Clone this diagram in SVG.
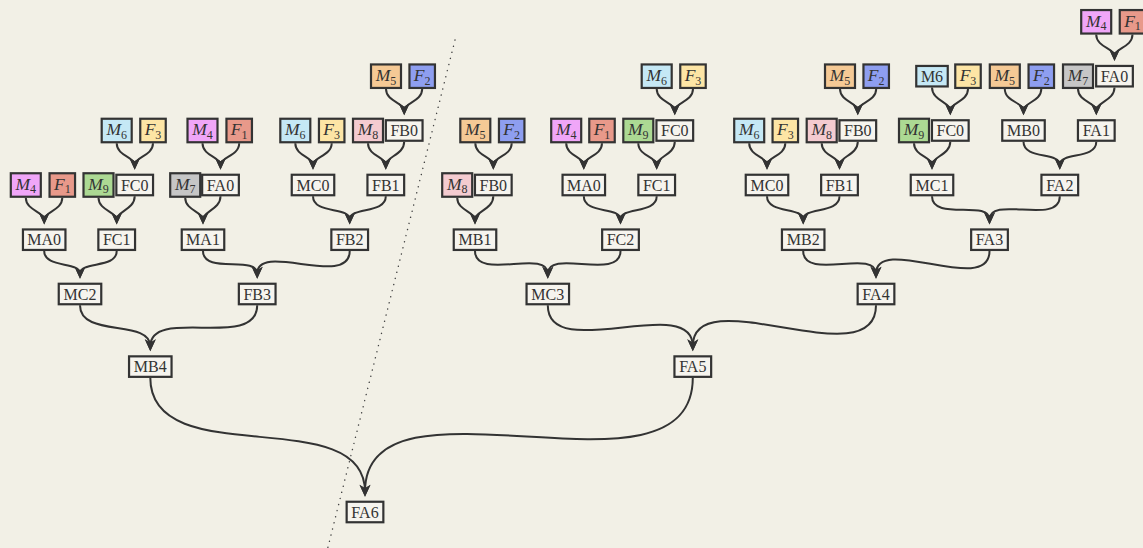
<svg xmlns="http://www.w3.org/2000/svg" width="1143" height="548" viewBox="0 0 1143 548">
<defs>
<marker id="ah" markerUnits="userSpaceOnUse" markerWidth="20" markerHeight="20" viewBox="-10 -10 20 20" refX="0" refY="0" orient="auto">
<path d="M5,0 L-7,-5.5 L-3.5,0 L-7,5.5 Z" fill="#333"/>
</marker>
</defs>
<style>
.bg{fill:#f2f0e6}
rect.b{stroke:#333;stroke-width:2.2}
.p{fill:#f6f4ee}
.cM4{fill:#f0a6f8}.cF1{fill:#e8998a}.cM9{fill:#acd993}.cM6{fill:#c5e8f5}.cF3{fill:#fde5a5}
.cM7{fill:#c6c6c6}.cM5{fill:#f5c995}.cF2{fill:#8e9ef0}.cM8{fill:#f4cbd0}
text{font-family:"Liberation Serif","Times New Roman",serif;font-size:16px;fill:#333;text-anchor:middle}
.i{font-style:italic;font-size:17.5px}
.s{font-size:12px}
#edges path{fill:none;stroke:#333;stroke-width:2;marker-end:url(#ah)}
</style>
<rect class="bg" x="0" y="0" width="1143" height="548"/>
<line x1="455" y1="40" x2="327" y2="551" stroke="#444" stroke-width="1.4" stroke-dasharray="0.1 6.2" stroke-linecap="round"/>
<g id="edges">
<path d="M386,88.95 C386,101.45 404.2,102.75 404.2,110.25"/>
<path d="M422.2,88.95 C422.2,101.45 404.2,102.75 404.2,110.25"/>
<path d="M116.7,143.25 C116.7,155.75 134.7,157.25 134.7,164.75"/>
<path d="M153,143.25 C153,155.75 134.7,157.25 134.7,164.75"/>
<path d="M202.5,143.25 C202.5,155.75 220.5,157.25 220.5,164.75"/>
<path d="M239.2,143.25 C239.2,155.85 220.5,157.15 220.5,164.75"/>
<path d="M295.3,143.25 C295.3,155.75 313,157.25 313,164.75"/>
<path d="M331.7,143.25 C331.7,155.75 313,157.25 313,164.75"/>
<path d="M368,143.25 C368,155.75 385.8,157.25 385.8,164.75"/>
<path d="M404.2,141.75 C404.2,154.85 385.8,156.65 385.8,164.75"/>
<path d="M25.8,197.75 C25.8,210.45 44.2,211.75 44.2,219.45"/>
<path d="M62.3,197.75 C62.3,210.35 44.2,211.85 44.2,219.45"/>
<path d="M98.5,197.75 C98.5,210.35 116.7,211.85 116.7,219.45"/>
<path d="M134.7,196.25 C134.7,209.35 116.7,211.35 116.7,219.45"/>
<path d="M185.2,197.75 C185.2,210.35 203,211.85 203,219.45"/>
<path d="M220.5,196.25 C220.5,209.25 203,211.45 203,219.45"/>
<path d="M313,196.25 C313,214.35 349.7,206.35 349.7,219.45"/>
<path d="M385.8,196.25 C385.8,214.15 349.7,206.55 349.7,219.45"/>
<path d="M44.2,250.95 C44.2,268.65 80,261.05 80,273.75"/>
<path d="M116.7,250.95 C116.7,268.95 80,260.75 80,273.75"/>
<path d="M203,250.95 C203,274.75 257.2,254.95 257.2,273.75"/>
<path d="M349.7,250.95 C349.7,288.75 257.2,240.95 257.2,273.75"/>
<path d="M80,305.25 C80,338.15 150.3,318.45 150.3,346.35"/>
<path d="M257.2,305.25 C257.2,350.85 150.3,305.75 150.3,346.35"/>
<path d="M150.3,377.85 C150.3,473.95 365,400.65 365,491.75"/>
<path d="M692.8,377.85 C692.8,514.35 365,360.25 365,491.75"/>
<path d="M1096.2,34.55 C1096.2,47.15 1114.5,48.35 1114.5,55.95"/>
<path d="M1132.5,34.55 C1132.5,47.05 1114.5,48.45 1114.5,55.95"/>
<path d="M656.7,88.95 C656.7,101.45 674.8,102.75 674.8,110.25"/>
<path d="M693,88.95 C693,101.45 674.8,102.75 674.8,110.25"/>
<path d="M840,88.95 C840,101.35 857.8,102.85 857.8,110.25"/>
<path d="M876.2,88.95 C876.2,101.45 857.8,102.75 857.8,110.25"/>
<path d="M932,87.45 C932,100.45 950.3,102.25 950.3,110.25"/>
<path d="M968,88.95 C968,101.35 950.3,102.85 950.3,110.25"/>
<path d="M1004.8,88.95 C1004.8,101.55 1023.5,102.65 1023.5,110.25"/>
<path d="M1041.3,88.95 C1041.3,101.55 1023.5,102.65 1023.5,110.25"/>
<path d="M1078,88.95 C1078,101.45 1096.3,102.75 1096.3,110.25"/>
<path d="M1114.5,87.45 C1114.5,100.45 1096.3,102.25 1096.3,110.25"/>
<path d="M475.3,143.25 C475.3,155.75 493.3,157.25 493.3,164.75"/>
<path d="M511.7,143.25 C511.7,155.75 493.3,157.25 493.3,164.75"/>
<path d="M566.2,143.25 C566.2,155.75 583.8,157.25 583.8,164.75"/>
<path d="M602,143.25 C602,155.75 583.8,157.25 583.8,164.75"/>
<path d="M638.3,143.25 C638.3,155.85 656.7,157.15 656.7,164.75"/>
<path d="M674.8,141.75 C674.8,154.75 656.7,156.75 656.7,164.75"/>
<path d="M749.2,143.25 C749.2,155.75 767,157.25 767,164.75"/>
<path d="M785.3,143.25 C785.3,155.75 767,157.25 767,164.75"/>
<path d="M821.7,143.25 C821.7,155.75 839.5,157.25 839.5,164.75"/>
<path d="M857.8,141.75 C857.8,154.85 839.5,156.65 839.5,164.75"/>
<path d="M914,143.25 C914,155.75 932,157.25 932,164.75"/>
<path d="M950.3,141.75 C950.3,154.85 932,156.65 932,164.75"/>
<path d="M1023.5,141.75 C1023.5,159.65 1059.8,151.85 1059.8,164.75"/>
<path d="M1096.3,141.75 C1096.3,159.75 1059.8,151.75 1059.8,164.75"/>
<path d="M457.2,197.75 C457.2,210.35 475,211.85 475,219.45"/>
<path d="M493.3,196.25 C493.3,209.45 475,211.25 475,219.45"/>
<path d="M583.8,196.25 C583.8,214.35 620.5,206.35 620.5,219.45"/>
<path d="M656.7,196.25 C656.7,214.15 620.5,206.55 620.5,219.45"/>
<path d="M767,196.25 C767,214.15 803.2,206.55 803.2,219.45"/>
<path d="M839.5,196.25 C839.5,214.15 803.2,206.55 803.2,219.45"/>
<path d="M932,196.25 C932,221.35 989.5,199.35 989.5,219.45"/>
<path d="M1059.8,196.25 C1059.8,225.95 989.5,194.75 989.5,219.45"/>
<path d="M475,250.95 C475,281.45 547.8,248.25 547.8,273.75"/>
<path d="M620.5,250.95 C620.5,281.45 547.8,248.25 547.8,273.75"/>
<path d="M803.2,250.95 C803.2,281.45 876,248.25 876,273.75"/>
<path d="M989.5,250.95 C989.5,296.75 876,232.95 876,273.75"/>
<path d="M547.8,305.25 C547.8,364.85 692.8,291.75 692.8,346.35"/>
<path d="M876,305.25 C876,379.25 692.8,277.35 692.8,346.35"/>
</g>

<!-- Left tree -->
<g id="L_M5a"><rect class="b cM5" x="371" y="64.45" width="30" height="23.5"/><text x="386" y="81"><tspan class="i">M</tspan><tspan class="s" dy="3.5">5</tspan></text></g>
<g id="L_F2a"><rect class="b cF2" x="409.45" y="64.45" width="25.5" height="23.5"/><text x="422.2" y="81"><tspan class="i">F</tspan><tspan class="s" dy="3.5">2</tspan></text></g>

<g id="L_M6b"><rect class="b cM6" x="101.7" y="118.75" width="30" height="23.5"/><text x="116.7" y="135.3"><tspan class="i">M</tspan><tspan class="s" dy="3.5">6</tspan></text></g>
<g id="L_F3b"><rect class="b cF3" x="140.25" y="118.75" width="25.5" height="23.5"/><text x="153" y="135.3"><tspan class="i">F</tspan><tspan class="s" dy="3.5">3</tspan></text></g>
<g id="L_M4b"><rect class="b cM4" x="187.5" y="118.75" width="30" height="23.5"/><text x="202.5" y="135.3"><tspan class="i">M</tspan><tspan class="s" dy="3.5">4</tspan></text></g>
<g id="L_F1b"><rect class="b cF1" x="226.45" y="118.75" width="25.5" height="23.5"/><text x="239.2" y="135.3"><tspan class="i">F</tspan><tspan class="s" dy="3.5">1</tspan></text></g>
<g id="L_M6b2"><rect class="b cM6" x="280.3" y="118.75" width="30" height="23.5"/><text x="295.3" y="135.3"><tspan class="i">M</tspan><tspan class="s" dy="3.5">6</tspan></text></g>
<g id="L_F3b2"><rect class="b cF3" x="318.95" y="118.75" width="25.5" height="23.5"/><text x="331.7" y="135.3"><tspan class="i">F</tspan><tspan class="s" dy="3.5">3</tspan></text></g>
<g id="L_M8b"><rect class="b cM8" x="353" y="118.75" width="30" height="23.5"/><text x="368" y="135.3"><tspan class="i">M</tspan><tspan class="s" dy="3.5">8</tspan></text></g>
<g id="L_FB0"><rect class="b p" x="385.85" y="120.25" width="36.7" height="20.5"/><text x="404.2" y="136.1">FB0</text></g>

<g id="L_M4c"><rect class="b cM4" x="10.8" y="173.25" width="30" height="23.5"/><text x="25.8" y="189.8"><tspan class="i">M</tspan><tspan class="s" dy="3.5">4</tspan></text></g>
<g id="L_F1c"><rect class="b cF1" x="49.55" y="173.25" width="25.5" height="23.5"/><text x="62.3" y="189.8"><tspan class="i">F</tspan><tspan class="s" dy="3.5">1</tspan></text></g>
<g id="L_M9c"><rect class="b cM9" x="83.5" y="173.25" width="30" height="23.5"/><text x="98.5" y="189.8"><tspan class="i">M</tspan><tspan class="s" dy="3.5">9</tspan></text></g>
<g id="L_FC0"><rect class="b p" x="116.35" y="174.75" width="36.7" height="20.5"/><text x="134.7" y="190.6">FC0</text></g>
<g id="L_M7c"><rect class="b cM7" x="170.2" y="173.25" width="30" height="23.5"/><text x="185.2" y="189.8"><tspan class="i">M</tspan><tspan class="s" dy="3.5">7</tspan></text></g>
<g id="L_FA0"><rect class="b p" x="202.15" y="174.75" width="36.7" height="20.5"/><text x="220.5" y="190.6">FA0</text></g>
<g id="L_MC0"><rect class="b p" x="291.75" y="174.75" width="42.5" height="20.5"/><text x="313" y="190.6">MC0</text></g>
<g id="L_FB1"><rect class="b p" x="367.45" y="174.75" width="36.7" height="20.5"/><text x="385.8" y="190.6">FB1</text></g>

<g id="L_MA0"><rect class="b p" x="22.95" y="229.45" width="42.5" height="20.5"/><text x="44.2" y="245.3">MA0</text></g>
<g id="L_FC1"><rect class="b p" x="98.35" y="229.45" width="36.7" height="20.5"/><text x="116.7" y="245.3">FC1</text></g>
<g id="L_MA1"><rect class="b p" x="181.75" y="229.45" width="42.5" height="20.5"/><text x="203" y="245.3">MA1</text></g>
<g id="L_FB2"><rect class="b p" x="331.35" y="229.45" width="36.7" height="20.5"/><text x="349.7" y="245.3">FB2</text></g>

<g id="L_MC2"><rect class="b p" x="58.75" y="283.75" width="42.5" height="20.5"/><text x="80" y="299.6">MC2</text></g>
<g id="L_FB3"><rect class="b p" x="238.85" y="283.75" width="36.7" height="20.5"/><text x="257.2" y="299.6">FB3</text></g>

<g id="L_MB4"><rect class="b p" x="129.05" y="356.35" width="42.5" height="20.5"/><text x="150.3" y="372.2">MB4</text></g>

<g id="FA6"><rect class="b p" x="346.65" y="501.75" width="36.7" height="20.5"/><text x="365" y="517.6">FA6</text></g>

<!-- Right tree -->
<g id="R_M4t"><rect class="b cM4" x="1081.2" y="10.05" width="30" height="23.5"/><text x="1096.2" y="26.6"><tspan class="i">M</tspan><tspan class="s" dy="3.5">4</tspan></text></g>
<g id="R_F1t"><rect class="b cF1" x="1119.75" y="10.05" width="25.5" height="23.5"/><text x="1132.5" y="26.6"><tspan class="i">F</tspan><tspan class="s" dy="3.5">1</tspan></text></g>

<g id="R_M6a"><rect class="b cM6" x="641.7" y="64.45" width="30" height="23.5"/><text x="656.7" y="81"><tspan class="i">M</tspan><tspan class="s" dy="3.5">6</tspan></text></g>
<g id="R_F3a"><rect class="b cF3" x="680.25" y="64.45" width="25.5" height="23.5"/><text x="693" y="81"><tspan class="i">F</tspan><tspan class="s" dy="3.5">3</tspan></text></g>
<g id="R_M5a"><rect class="b cM5" x="825" y="64.45" width="30" height="23.5"/><text x="840" y="81"><tspan class="i">M</tspan><tspan class="s" dy="3.5">5</tspan></text></g>
<g id="R_F2a"><rect class="b cF2" x="863.45" y="64.45" width="25.5" height="23.5"/><text x="876.2" y="81"><tspan class="i">F</tspan><tspan class="s" dy="3.5">2</tspan></text></g>
<g id="R_M6pa"><rect class="b cM6" x="916.25" y="65.95" width="31.5" height="20.5"/><text x="932" y="81.8">M6</text></g>
<g id="R_F3a2"><rect class="b cF3" x="955.25" y="64.45" width="25.5" height="23.5"/><text x="968" y="81"><tspan class="i">F</tspan><tspan class="s" dy="3.5">3</tspan></text></g>
<g id="R_M5a2"><rect class="b cM5" x="989.8" y="64.45" width="30" height="23.5"/><text x="1004.8" y="81"><tspan class="i">M</tspan><tspan class="s" dy="3.5">5</tspan></text></g>
<g id="R_F2a2"><rect class="b cF2" x="1028.55" y="64.45" width="25.5" height="23.5"/><text x="1041.3" y="81"><tspan class="i">F</tspan><tspan class="s" dy="3.5">2</tspan></text></g>
<g id="R_M7a"><rect class="b cM7" x="1063" y="64.45" width="30" height="23.5"/><text x="1078" y="81"><tspan class="i">M</tspan><tspan class="s" dy="3.5">7</tspan></text></g>
<g id="R_FA0"><rect class="b p" x="1096.15" y="65.95" width="36.7" height="20.5"/><text x="1114.5" y="81.8">FA0</text></g>

<g id="R_M5b"><rect class="b cM5" x="460.3" y="118.75" width="30" height="23.5"/><text x="475.3" y="135.3"><tspan class="i">M</tspan><tspan class="s" dy="3.5">5</tspan></text></g>
<g id="R_F2b"><rect class="b cF2" x="498.95" y="118.75" width="25.5" height="23.5"/><text x="511.7" y="135.3"><tspan class="i">F</tspan><tspan class="s" dy="3.5">2</tspan></text></g>
<g id="R_M4b"><rect class="b cM4" x="551.2" y="118.75" width="30" height="23.5"/><text x="566.2" y="135.3"><tspan class="i">M</tspan><tspan class="s" dy="3.5">4</tspan></text></g>
<g id="R_F1b"><rect class="b cF1" x="589.25" y="118.75" width="25.5" height="23.5"/><text x="602" y="135.3"><tspan class="i">F</tspan><tspan class="s" dy="3.5">1</tspan></text></g>
<g id="R_M9b"><rect class="b cM9" x="623.3" y="118.75" width="30" height="23.5"/><text x="638.3" y="135.3"><tspan class="i">M</tspan><tspan class="s" dy="3.5">9</tspan></text></g>
<g id="R_FC0b"><rect class="b p" x="656.45" y="120.25" width="36.7" height="20.5"/><text x="674.8" y="136.1">FC0</text></g>
<g id="R_M6b"><rect class="b cM6" x="734.2" y="118.75" width="30" height="23.5"/><text x="749.2" y="135.3"><tspan class="i">M</tspan><tspan class="s" dy="3.5">6</tspan></text></g>
<g id="R_F3b"><rect class="b cF3" x="772.55" y="118.75" width="25.5" height="23.5"/><text x="785.3" y="135.3"><tspan class="i">F</tspan><tspan class="s" dy="3.5">3</tspan></text></g>
<g id="R_M8b"><rect class="b cM8" x="806.7" y="118.75" width="30" height="23.5"/><text x="821.7" y="135.3"><tspan class="i">M</tspan><tspan class="s" dy="3.5">8</tspan></text></g>
<g id="R_FB0b"><rect class="b p" x="839.45" y="120.25" width="36.7" height="20.5"/><text x="857.8" y="136.1">FB0</text></g>
<g id="R_M9b2"><rect class="b cM9" x="899" y="118.75" width="30" height="23.5"/><text x="914" y="135.3"><tspan class="i">M</tspan><tspan class="s" dy="3.5">9</tspan></text></g>
<g id="R_FC0b2"><rect class="b p" x="931.95" y="120.25" width="36.7" height="20.5"/><text x="950.3" y="136.1">FC0</text></g>
<g id="R_MB0"><rect class="b p" x="1002.25" y="120.25" width="42.5" height="20.5"/><text x="1023.5" y="136.1">MB0</text></g>
<g id="R_FA1"><rect class="b p" x="1077.95" y="120.25" width="36.7" height="20.5"/><text x="1096.3" y="136.1">FA1</text></g>

<g id="R_M8c"><rect class="b cM8" x="442.2" y="173.25" width="30" height="23.5"/><text x="457.2" y="189.8"><tspan class="i">M</tspan><tspan class="s" dy="3.5">8</tspan></text></g>
<g id="R_FB0c"><rect class="b p" x="474.95" y="174.75" width="36.7" height="20.5"/><text x="493.3" y="190.6">FB0</text></g>
<g id="R_MA0"><rect class="b p" x="562.55" y="174.75" width="42.5" height="20.5"/><text x="583.8" y="190.6">MA0</text></g>
<g id="R_FC1"><rect class="b p" x="638.35" y="174.75" width="36.7" height="20.5"/><text x="656.7" y="190.6">FC1</text></g>
<g id="R_MC0"><rect class="b p" x="745.75" y="174.75" width="42.5" height="20.5"/><text x="767" y="190.6">MC0</text></g>
<g id="R_FB1"><rect class="b p" x="821.15" y="174.75" width="36.7" height="20.5"/><text x="839.5" y="190.6">FB1</text></g>
<g id="R_MC1"><rect class="b p" x="910.75" y="174.75" width="42.5" height="20.5"/><text x="932" y="190.6">MC1</text></g>
<g id="R_FA2"><rect class="b p" x="1041.45" y="174.75" width="36.7" height="20.5"/><text x="1059.8" y="190.6">FA2</text></g>

<g id="R_MB1"><rect class="b p" x="453.75" y="229.45" width="42.5" height="20.5"/><text x="475" y="245.3">MB1</text></g>
<g id="R_FC2"><rect class="b p" x="602.15" y="229.45" width="36.7" height="20.5"/><text x="620.5" y="245.3">FC2</text></g>
<g id="R_MB2"><rect class="b p" x="781.95" y="229.45" width="42.5" height="20.5"/><text x="803.2" y="245.3">MB2</text></g>
<g id="R_FA3"><rect class="b p" x="971.15" y="229.45" width="36.7" height="20.5"/><text x="989.5" y="245.3">FA3</text></g>

<g id="R_MC3"><rect class="b p" x="526.55" y="283.75" width="42.5" height="20.5"/><text x="547.8" y="299.6">MC3</text></g>
<g id="R_FA4"><rect class="b p" x="857.65" y="283.75" width="36.7" height="20.5"/><text x="876" y="299.6">FA4</text></g>

<g id="R_FA5"><rect class="b p" x="674.45" y="356.35" width="36.7" height="20.5"/><text x="692.8" y="372.2">FA5</text></g>
</svg>
